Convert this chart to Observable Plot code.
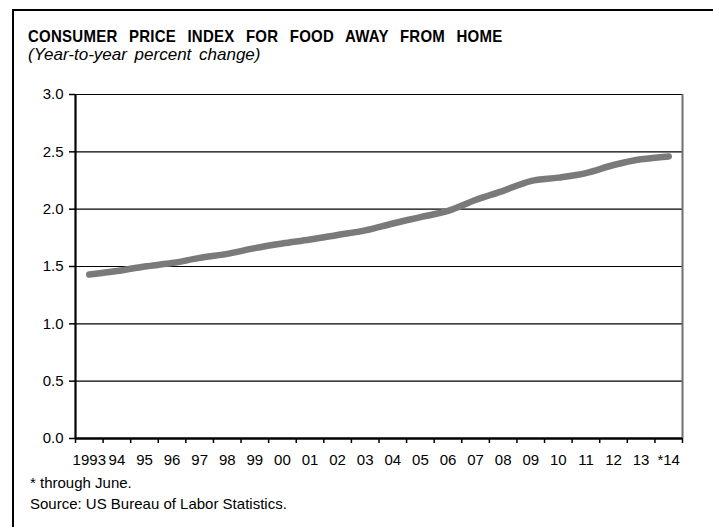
<!DOCTYPE html>
<html>
<head>
<meta charset="utf-8">
<script src="https://cdn.jsdelivr.net/npm/d3@7"></script>
<script src="https://cdn.jsdelivr.net/npm/@observablehq/plot@0.6"></script>
<style>
  html, body { margin: 0; padding: 0; background: #fff; }
  #wrap { position: relative; width: 713px; height: 527px; overflow: hidden; background: #fff;
          font-family: "Liberation Sans", Arial, sans-serif; color: #000; }
  #frame { position: absolute; left: 12px; top: 9px; width: 900px; height: 700px;
           border-left: 2px solid #000; border-top: 2px solid #000; }
  .txt { position: absolute; white-space: nowrap; line-height: 1; }
  #title { left: 28px; top: 29px; font-size: 15px; font-weight: bold; word-spacing: 7px;
           letter-spacing: 0.25px; transform: scaleY(1.12); transform-origin: 0 85%; }
  #subtitle { left: 28px; top: 46px; font-size: 17px; font-style: italic; word-spacing: 3px; }
  #note1 { left: 30px; top: 475px; font-size: 15px; }
  #note2 { left: 30px; top: 496px; font-size: 15px; }
  #chart { position: absolute; left: 0; top: 80px; }
</style>
</head>
<body>
<div id="wrap">
  <div id="frame"></div>
  <div id="title" class="txt">CONSUMER PRICE INDEX FOR FOOD AWAY FROM HOME</div>
  <div id="subtitle" class="txt">(Year-to-year percent change)</div>
  <div id="chart"></div>
  <div id="note1" class="txt">* through June.</div>
  <div id="note2" class="txt">Source: US Bureau of Labor Statistics.</div>
</div>
<script>
// Data
const years = [1993, 1994, 1995, 1996, 1997, 1998, 1999, 2000, 2001, 2002, 2003,
               2004, 2005, 2006, 2007, 2008, 2009, 2010, 2011, 2012, 2013, 2014];
const yearLabels = ["1993", "94", "95", "96", "97", "98", "99", "00", "01", "02", "03",
                    "04", "05", "06", "07", "08", "09", "10", "11", "12", "13", "*14"];
const values = [1.43, 1.46, 1.50, 1.53, 1.575, 1.61, 1.66, 1.70, 1.735, 1.775, 1.815,
                1.875, 1.93, 1.985, 2.08, 2.16, 2.245, 2.275, 2.315, 2.385, 2.435, 2.46];
const yTicks = [0, 0.5, 1.0, 1.5, 2.0, 2.5, 3.0];

const xDomain = [years[0] - 0.5, years[years.length - 1] + 0.5];
const boundaries = years.map(y => y - 0.5).concat([xDomain[1]]);
const data = years.map((y, i) => ({year: y, value: values[i]}));

const chart = Plot.plot({
  width: 713,
  height: 390,
  marginLeft: 75,
  marginRight: 31,
  marginTop: 14,
  marginBottom: 32,
  style: {fontFamily: "'Liberation Sans', Arial, sans-serif", fontSize: "15px", color: "#000", background: "transparent", overflow: "visible"},
  x: {domain: xDomain, axis: null},
  y: {domain: [yTicks[0], yTicks[yTicks.length - 1]], axis: null},
  marks: [
    Plot.ruleY(yTicks.slice(1), {stroke: "#000", strokeWidth: 1.2}),
    Plot.ruleX([xDomain[1]], {stroke: "#6f6f6f", strokeWidth: 2}),
    Plot.axisY({ticks: yTicks, tickFormat: d => d.toFixed(1), tickSize: 6, tickPadding: 6,
                label: null, stroke: "#000", strokeWidth: 1.5, fill: "#000"}),
    Plot.axisX({ticks: boundaries, tickFormat: () => "", tickSize: 5, label: null,
                stroke: "#000", strokeWidth: 1.5}),
    Plot.axisX({ticks: years, tickFormat: d => yearLabels[years.indexOf(d)], tickSize: 0,
                tickPadding: 16, label: null, fill: "#000"}),
    Plot.ruleX([xDomain[0]], {stroke: "#000", strokeWidth: 2.2}),
    Plot.ruleY([yTicks[0]], {stroke: "#000", strokeWidth: 2.5}),
    Plot.line(data, {x: "year", y: "value", stroke: "#7a7a7a", strokeWidth: 6.5,
                     strokeLinecap: "round", strokeLinejoin: "round", curve: "monotone-x"})
  ]
});
document.getElementById("chart").appendChild(chart);
</script>
</body>
</html>
